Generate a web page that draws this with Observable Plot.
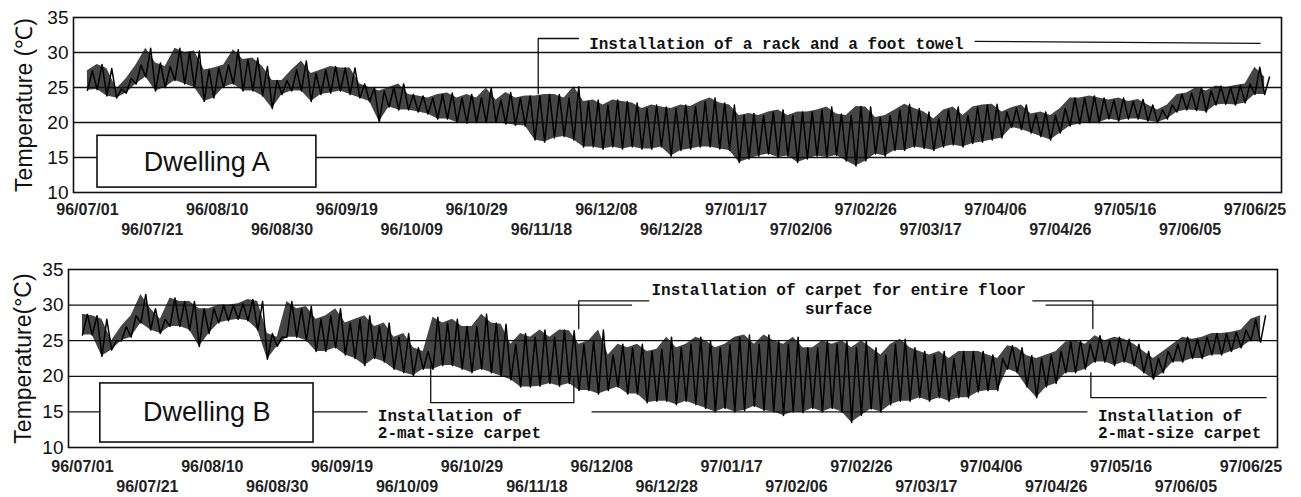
<!DOCTYPE html>
<html><head><meta charset="utf-8">
<script src="https://cdn.jsdelivr.net/npm/d3@7"></script>
<script src="https://cdn.jsdelivr.net/npm/@observablehq/plot@0.6"></script>
<style>
body{margin:0;background:#fff;}
#chart{width:1301px;height:497px;overflow:hidden;}
#chart svg{display:block;}
</style></head><body><div id="chart"></div>
<script>
// X-axis tick labels (every 20 days) and their day offsets
const tickLabels = ["96/07/01","96/07/21","96/08/10","96/08/30","96/09/19","96/10/09","96/10/29","96/11/18","96/12/08","96/12/28","97/01/17","97/02/06","97/02/26","97/03/17","97/04/06","97/04/26","97/05/16","97/06/05","97/06/25"];
const tickDays = [0,20,40,60,80,100,120,140,160,180,200,220,240,260,280,300,320,340,360];
const yTicks = [10,15,20,25,30,35];
const gridValues = [15,20,25,30];

// Sample days (every 3 days) for the daily low / high readings
const sampleDays = [0,3,6,9,12,15,18,21,24,27,30,33,36,39,42,45,48,51,54,57,60,63,66,69,72,75,78,81,84,87,90,93,96,99,102,105,108,111,114,117,120,123,126,129,132,135,138,141,144,147,150,153,156,159,162,165,168,171,174,177,180,183,186,189,192,195,198,201,204,207,210,213,216,219,222,225,228,231,234,237,240,243,246,249,252,255,258,261,264,267,270,273,276,279,282,285,288,291,294,297,300,303,306,309,312,315,318,321,324,327,330,333,336,339,342,345,348,351,354,357,360,363];

// Dwelling A temperatures (°C)
const lowA = [24.6,24.7,23.8,23.5,24.2,25.5,26.5,24.5,25.0,26.0,
25.5,25.0,23.0,23.5,25.0,25.5,24.5,24.5,23.8,22.0,
24.0,24.5,24.5,23.0,24.0,24.2,24.5,24.0,23.5,23.0,
20.1,22.2,21.8,21.8,21.5,21.2,20.5,20.5,20.0,19.9,
20.0,20.0,20.0,19.8,19.6,19.5,17.5,17.2,17.8,18.0,
17.5,16.5,16.5,16.2,16.5,16.2,16.5,16.2,16.2,16.5,
15.2,16.0,16.2,16.5,16.5,16.2,16.0,14.3,14.8,15.2,
15.5,15.0,15.2,14.3,14.8,15.2,15.0,15.3,14.5,13.8,
14.5,15.5,15.2,16.0,16.0,16.5,16.3,16.0,16.5,16.8,
16.5,17.0,17.2,17.5,17.8,19.3,19.0,18.5,18.0,17.5,
18.5,19.5,19.8,20.0,20.0,20.5,20.2,20.5,20.5,20.2,
20.0,20.5,21.5,21.8,21.7,21.5,22.5,22.6,22.5,22.8,
24.0,24.0];
const highA = [27.4,28.3,27.7,24.8,26.3,28.2,30.6,28.5,28.0,30.6,
30.0,30.2,27.5,27.8,28.2,30.4,29.0,29.2,28.0,26.0,
26.0,27.5,28.8,27.0,27.5,28.0,27.8,27.8,25.5,25.0,
24.5,25.0,25.5,24.0,23.8,23.5,24.0,24.2,23.5,24.0,
23.5,24.9,23.2,24.3,23.5,23.8,23.8,24.0,24.0,23.5,
25.1,23.0,23.2,22.5,23.2,23.0,22.8,22.0,22.5,22.2,
22.0,22.5,22.3,23.0,23.5,22.8,22.5,21.0,21.3,21.0,
21.5,21.8,21.0,21.5,21.5,21.8,22.2,21.2,21.0,22.3,
22.2,20.7,21.0,21.8,22.6,22.0,21.5,20.5,21.8,22.2,
21.0,22.2,22.5,22.6,21.5,22.1,22.5,21.2,21.5,21.0,
22.0,23.5,23.5,23.8,23.5,23.2,23.5,23.0,23.3,22.5,
21.8,22.5,24.0,24.2,25.0,24.5,25.2,25.0,25.3,25.5,
27.9,26.5];

// Dwelling B temperatures (°C)
const lowB = [25.8,25.8,22.8,23.7,25.0,25.5,27.5,26.5,26.0,27.0,
27.0,26.5,24.2,26.0,27.5,27.8,28.0,27.8,26.5,22.4,
24.2,25.5,25.5,25.0,23.5,23.5,24.0,23.0,22.5,21.5,
22.5,22.0,21.0,20.5,20.1,21.0,21.0,21.5,21.5,21.0,
20.5,21.0,20.5,20.0,19.5,18.5,18.5,18.6,19.0,18.6,
19.0,18.0,18.0,17.5,18.0,18.5,17.5,17.5,16.3,16.5,
16.5,16.0,16.5,16.0,15.5,15.0,15.5,15.0,15.2,15.8,
15.2,15.0,14.5,15.0,14.9,15.5,15.0,15.5,15.0,13.5,
14.5,15.4,15.0,16.0,16.5,16.5,17.0,16.5,17.0,16.5,
17.0,17.0,17.8,18.0,18.0,21.0,20.5,18.5,17.0,18.5,
19.0,20.5,20.5,21.0,22.0,22.0,21.5,22.0,21.5,20.5,
19.6,20.5,22.0,22.0,22.5,22.5,23.0,23.0,23.5,24.0,
25.0,24.8];
const highB = [28.7,28.5,28.0,25.0,27.0,28.5,31.5,29.5,28.0,31.0,
30.5,30.5,29.5,29.5,30.0,30.0,30.2,30.8,30.5,26.0,
25.5,30.5,29.5,29.8,28.0,28.5,29.5,27.5,28.0,28.5,
27.0,27.5,25.5,26.0,24.0,23.5,28.3,27.5,28.0,27.0,
27.0,28.7,27.5,27.3,24.5,26.0,25.5,26.5,25.5,26.5,
26.4,24.5,25.0,26.5,23.0,24.5,24.0,24.5,23.5,23.8,
25.5,24.0,24.5,25.5,25.0,24.0,24.5,25.5,25.8,24.5,
25.8,25.0,24.5,25.5,24.0,24.0,25.0,24.5,25.0,24.0,
25.0,24.0,23.0,24.5,25.2,24.0,23.5,23.0,23.5,22.5,
23.5,23.5,23.5,23.0,22.5,24.3,24.0,22.9,22.5,23.0,
23.5,24.8,25.0,24.5,25.7,25.0,25.5,25.2,24.5,23.5,
22.5,23.5,24.5,25.5,25.2,25.5,26.0,26.0,26.2,26.5,
28.0,28.5];

// Annotations (day, °C)
const labelBoxA = {x1: 3.1, x2: 70.6, y1: 10.7, y2: 18.1, text: "Dwelling A", tx: 36.8, ty: 14.3};
const labelBoxB = {x1: 5.5, x2: 71.2, y1: 10.7, y2: 19.0, text: "Dwelling B", tx: 38.3, ty: 14.9};
const notesA = [{x: 154.7, y: 31.3, text: "Installation of a rack and a foot towel", anchor: "start"}];
const leadersA = [
  [[139, 24.1], [139, 32.0], [151.4, 32.0]],
  [[273.7, 31.6], [361.6, 31.3]]
];
const notesB = [
  {x: 233, y: 32.2, text: "Installation of carpet for entire floor", anchor: "middle"},
  {x: 233, y: 29.4, text: "surface", anchor: "middle"},
  {x: 91, y: 14.5, text: "Installation of", anchor: "start"},
  {x: 91, y: 12.0, text: "2-mat-size carpet", anchor: "start"},
  {x: 312.9, y: 14.5, text: "Installation of", anchor: "start"},
  {x: 312.9, y: 12.0, text: "2-mat-size carpet", anchor: "start"}
];
const masksB = [
  {x1: 169.5, x2: 296.9, y1: 28.3, y2: 33.6},
  {x1: 88, x2: 157, y1: 11.0, y2: 15.9},
  {x1: 309.8, x2: 368.2, y1: 11.0, y2: 15.9}
];
const leadersB = [
  [[107.3, 21.5], [107.3, 16.3], [151.4, 16.3], [151.4, 19.7]],
  [[152.9, 26.7], [152.9, 30.6], [174.5, 30.6]],
  [[292.8, 30.6], [311.3, 30.6], [311.3, 26.7]],
  [[310.7, 20.5], [310.7, 17.0], [364.7, 17.0]]
];

function zig(low, high) {
  return sampleDays.flatMap((d, i) => [{x: d, y: low[i]}, {x: d + 1.5, y: high[i]}]);
}
function band(low, high) {
  return sampleDays.map((d, i) => ({x: d, lo: low[i], hi: high[i]}));
}
function segs(list) {
  return list.flatMap((pts, k) => pts.map(([x, y]) => ({x, y, k})));
}

function panel({low, high, box, notes, leaders, masks, title, mt, mb, ml, mr, h, titleDx, pad1, pad2}) {
  const even = tickDays.filter((_, i) => i % 2 === 0);
  const odd = tickDays.filter((_, i) => i % 2 === 1);
  const fmt = d => tickLabels[tickDays.indexOf(d)];
  const mono = {fontFamily: "'Liberation Mono', 'DejaVu Sans Mono', monospace", fontWeight: "bold", fontSize: 16, fill: "#111"};
  return Plot.plot({
    width: 1301, height: h,
    marginTop: mt, marginBottom: mb, marginLeft: ml, marginRight: mr,
    style: {fontFamily: "'Liberation Sans', Arial, sans-serif", background: "white", color: "black", overflow: "visible"},
    x: {domain: [-4.3, 368.2]},
    y: {domain: [10, 35]},
    marks: [
      Plot.ruleY(gridValues, {stroke: "#111", strokeWidth: 1.3}),
      Plot.rect(masks, {x1: "x1", x2: "x2", y1: "y1", y2: "y2", fill: "white"}),
      Plot.areaY(band(low, high), {x: "x", y1: "lo", y2: "hi", fill: "#111", fillOpacity: 0.78}),
      Plot.line(zig(low, high), {x: "x", y: "y", stroke: "#000", strokeWidth: 1.5}),
      Plot.rect([box], {x1: "x1", x2: "x2", y1: "y1", y2: "y2", fill: "white", stroke: "#111", strokeWidth: 1.6}),
      Plot.text([box], {x: "tx", y: "ty", text: "text", fontSize: 27, fill: "#111"}),
      Plot.line(segs(leaders), {x: "x", y: "y", z: "k", stroke: "#111", strokeWidth: 1.3}),
      Plot.text(notes, {filter: d => d.anchor === "start", x: "x", y: "y", text: "text", textAnchor: "start", ...mono}),
      Plot.text(notes, {filter: d => d.anchor === "middle", x: "x", y: "y", text: "text", textAnchor: "middle", ...mono}),
      Plot.frame({stroke: "#111", strokeWidth: 1.6}),
      Plot.axisY(yTicks, {tickSize: 0, tickPadding: 5, fontSize: 19, label: null, fill: "#111"}),
      Plot.axisX(even, {tickSize: 0, tickPadding: pad1, tickFormat: fmt, fontSize: 16, fontWeight: "bold", label: null, fill: "#222"}),
      Plot.axisX(odd, {tickSize: 0, tickPadding: pad2, tickFormat: fmt, fontSize: 16, fontWeight: "bold", label: null, fill: "#222"}),
      Plot.text([title], {frameAnchor: "left", textAnchor: "middle", rotate: -90, dx: titleDx, fontSize: 23, fill: "#111"})
    ]
  });
}

const chart = document.getElementById("chart");
chart.append(panel({low: lowA, high: highA, box: labelBoxA, notes: notesA, leaders: leadersA, masks: [],
  title: "Temperature (℃)", mt: 17, mb: 56, ml: 73, mr: 20, h: 248, titleDx: -49, pad1: 11, pad2: 31}));
chart.append(panel({low: lowB, high: highB, box: labelBoxB, notes: notesB, leaders: leadersB, masks: masksB,
  title: "Temperature(°C)", mt: 21, mb: 50, ml: 68, mr: 24, h: 249, titleDx: -45, pad1: 13, pad2: 33}));
</script></body></html>
